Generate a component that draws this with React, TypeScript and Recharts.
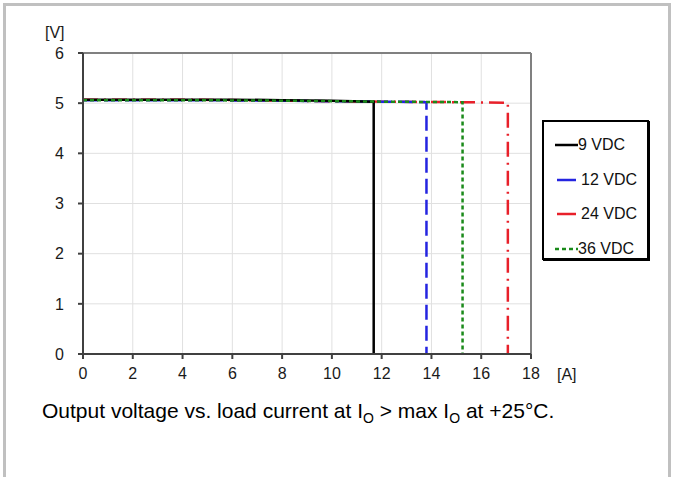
import React from 'react';
import {
  LineChart,
  Line,
  XAxis,
  YAxis,
  CartesianGrid,
  ReferenceLine,
  Legend,
} from 'recharts';

// load current [A] and output voltage [V]
const vdc9 = [
  { x: 0, y: 5.07 },
  { x: 2, y: 5.07 },
  { x: 4, y: 5.07 },
  { x: 6, y: 5.07 },
  { x: 8, y: 5.06 },
  { x: 10, y: 5.05 },
  { x: 11.68, y: 5.03 },
  { x: 11.68, y: 0 },
];

const vdc12 = [
  { x: 0, y: 5.06 },
  { x: 4, y: 5.06 },
  { x: 8, y: 5.05 },
  { x: 12, y: 5.03 },
  { x: 13.8, y: 5.02 },
  { x: 13.8, y: 0 },
];

const vdc24 = [
  { x: 0, y: 5.07 },
  { x: 4, y: 5.07 },
  { x: 8, y: 5.05 },
  { x: 12, y: 5.03 },
  { x: 15, y: 5.02 },
  { x: 17.07, y: 5.01 },
  { x: 17.07, y: 0 },
];

const vdc36 = [
  { x: 0, y: 5.06 },
  { x: 4, y: 5.06 },
  { x: 8, y: 5.05 },
  { x: 12, y: 5.03 },
  { x: 15.25, y: 5.02 },
  { x: 15.25, y: 0 },
];

const xTicks = [0, 2, 4, 6, 8, 10, 12, 14, 16, 18];
const yTicks = [0, 1, 2, 3, 4, 5, 6];

const series = [
  { name: '24 VDC', data: vdc24, color: '#e8202a', dash: '15 6 2 6', key: undefined },
  { name: '12 VDC', data: vdc12, color: '#2424e0', dash: '15 6', key: undefined },
  { name: '9 VDC', data: vdc9, color: '#000000', dash: undefined, key: undefined },
  { name: '36 VDC', data: vdc36, color: '#1a8a1a', dash: '4 3', key: '4 3' },
];

const legendOrder = ['9 VDC', '12 VDC', '24 VDC', '36 VDC'];

const font = '"Liberation Sans", Arial, sans-serif';

const LegendBox = () => (
  <div
    style={{
      width: 107,
      height: 140,
      boxSizing: 'border-box',
      border: '2px solid #000',
      boxShadow: '1px 1px 0 #000',
      background: '#fff',
      paddingTop: 6,
      fontFamily: font,
      fontSize: 16,
      color: '#111',
    }}
  >
    {legendOrder.map((n) => {
      const s = series.find((d) => d.name === n)!;
      const solid = !s.key;
      return (
        <div key={n} style={{ display: 'flex', alignItems: 'center', height: 34.5 }}>
          <svg width={34} height={10} style={{ marginLeft: 8 }}>
            <line
              x1={solid && n !== '9 VDC' ? 5 : 3}
              y1={5}
              x2={n === '9 VDC' || !solid ? 26 : 24}
              y2={5}
              stroke={s.color}
              strokeWidth={2.5}
              strokeDasharray={s.key}
            />
          </svg>
          <span style={{ marginLeft: n === '12 VDC' || n === '24 VDC' ? -5 : -8 }}>{n}</span>
        </div>
      );
    })}
  </div>
);

const App: React.FC = () => {
  return (
    <div style={{ position: 'absolute', left: 0, top: 0, width: 675, height: 477, background: '#fff', overflow: 'hidden' }}>
      <div
        style={{
          position: 'absolute',
          left: 3,
          top: 3,
          width: 668,
          height: 490,
          boxSizing: 'border-box',
          border: '3px solid #c0c0c0',
          borderBottom: 'none',
        }}
      />
      <div style={{ position: 'absolute', left: 0, top: 0 }}>
        <LineChart width={675} height={400} margin={{ top: 53, right: 144, bottom: 16, left: 53 }}>
          <CartesianGrid stroke="#e0e0e0" strokeWidth={1} />
          <XAxis
            type="number"
            dataKey="x"
            domain={[0, 18]}
            ticks={xTicks}
            interval={0}
            height={30}
            tickSize={5}
            tickMargin={9}
            stroke="#404040"
            strokeWidth={2}
            tick={{ fill: '#1a1a1a', fontSize: 16, fontFamily: font }}
          />
          <YAxis
            type="number"
            dataKey="y"
            domain={[0, 6]}
            ticks={yTicks}
            interval={0}
            width={30}
            tickSize={5}
            tickMargin={14}
            stroke="#404040"
            strokeWidth={2}
            tick={{ fill: '#1a1a1a', fontSize: 16, fontFamily: font }}
          />
          <ReferenceLine y={6} stroke="#808080" strokeWidth={2} />
          <ReferenceLine x={18} stroke="#808080" strokeWidth={2} />
          {series.map((s) => (
            <Line
              key={s.name}
              name={s.name}
              data={s.data}
              dataKey="y"
              type="linear"
              stroke={s.color}
              strokeWidth={2.5}
              strokeDasharray={s.dash}
              dot={false}
              activeDot={false}
              isAnimationActive={false}
            />
          ))}
          <Legend
            layout="vertical"
            align="center"
            verticalAlign="middle"
            content={() => <LegendBox />}
            wrapperStyle={{ left: 542, top: 120, width: 107 }}
          />
        </LineChart>
      </div>
      <div style={{ position: 'absolute', left: 45, top: 24, fontFamily: font, fontSize: 16, color: '#1a1a1a' }}>[V]</div>
      <div style={{ position: 'absolute', left: 557, top: 366, fontFamily: font, fontSize: 16, color: '#1a1a1a' }}>[A]</div>
      <div
        style={{
          position: 'absolute',
          left: 42,
          top: 399,
          fontFamily: font,
          fontSize: 21,
          color: '#000',
          whiteSpace: 'nowrap',
        }}
      >
        Output voltage vs. load current at I<span style={{ fontSize: 14, position: 'relative', top: 5 }}>O</span> &gt; max I
        <span style={{ fontSize: 14, position: 'relative', top: 5 }}>O</span> at +25°C.
      </div>
    </div>
  );
};

export default App;
